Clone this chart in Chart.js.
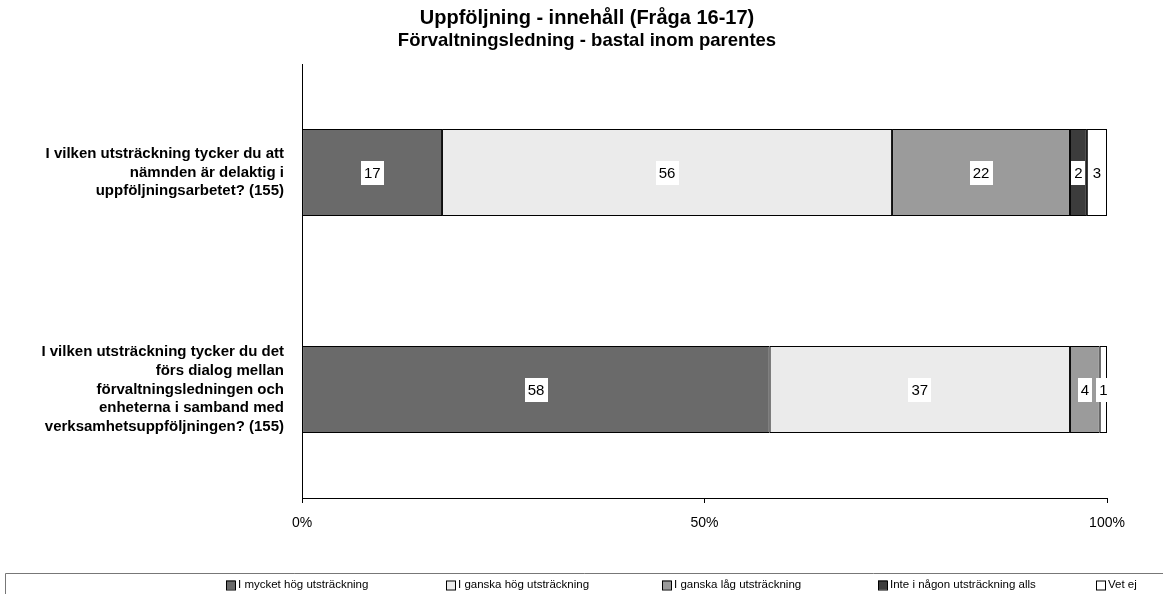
<!DOCTYPE html>
<html><head><meta charset="utf-8">
<script src="https://cdn.jsdelivr.net/npm/chart.js@4"></script>
<style>html,body{margin:0;padding:0;background:#fff}#wrap{width:1163px;height:594px;position:relative}</style>
</head><body><div id="wrap"><canvas id="c" width="1163" height="594"></canvas></div>
<script>
const categories = [
  ["I vilken utsträckning tycker du att","nämnden är delaktig i","uppföljningsarbetet? (155)"],
  ["I vilken utsträckning tycker du det","förs dialog mellan","förvaltningsledningen och","enheterna i samband med","verksamhetsuppföljningen? (155)"]
];
const seriesNames = ["I mycket hög utsträckning","I ganska hög utsträckning","I ganska låg utsträckning","Inte i någon utsträckning alls","Vet ej"];
const veryHigh   = [17.4, 58.1];
const fairlyHigh = [55.9, 37.3];
const fairlyLow  = [22.1, 3.7];
const notAtAll   = [2.1, 0];
const dontKnow   = [2.5, 0.9];
const xTicks = [0, 50, 100];
const titleText = "Uppföljning - innehåll (Fråga 16-17)";
const subtitleText = "Förvaltningsledning - bastal inom parentes";

const colors = ["#6a6a6a","#ebebeb","#9b9b9b","#3c3c3c","#ffffff"];
const FONT = "'Liberation Sans', Arial, sans-serif";

const seriesData = [veryHigh, fairlyHigh, fairlyLow, notAtAll, dontKnow];
const datasets = seriesData.map((d,i)=>({
  label: seriesNames[i], data: d, backgroundColor: colors[i],
  borderColor: "#000", borderWidth: 1, borderSkipped: false,
  categoryPercentage: 1, barPercentage: 0.4
}));

const decor = {
  id: "decor",
  afterDatasetsDraw(chart){
    const ctx = chart.ctx;
    ctx.save();
    ctx.font = "15px " + FONT;
    ctx.textAlign = "center"; ctx.textBaseline = "middle";
    chart.data.datasets.forEach((ds, di)=>{
      const meta = chart.getDatasetMeta(di);
      meta.data.forEach((bar, i)=>{
        const v = ds.data[i];
        if (!v) return;
        const txt = String(Math.round(v));
        const cx = (bar.x + bar.base)/2, cy = bar.y;
        const w = ctx.measureText(txt).width + 6, h = 24;
        ctx.fillStyle = "#fff";
        ctx.fillRect(Math.round(cx - w/2), Math.round(cy - h/2), Math.round(w), h);
        ctx.fillStyle = "#000";
        ctx.fillText(txt, cx, cy + 1);
      });
    });
    ctx.restore();
  },
  afterDraw(chart){
    const ctx = chart.ctx;
    ctx.save();
    ctx.fillStyle = "#000";
    ctx.textAlign = "center"; ctx.textBaseline = "middle";
    ctx.font = "bold 20px " + FONT;
    ctx.fillText(titleText, 587, 18);
    ctx.font = "bold 18.5px " + FONT;
    ctx.fillText(subtitleText, 587, 41);
    // legend frame
    ctx.strokeStyle = "#777"; ctx.lineWidth = 1;
    ctx.beginPath(); ctx.moveTo(5.5, 594); ctx.lineTo(5.5, 573.5); ctx.lineTo(1163, 573.5); ctx.stroke();
    const xs = [226, 446, 662, 878, 1096];
    ctx.font = "11.5px " + FONT; ctx.textAlign = "left";
    chart.data.datasets.forEach((ds, i)=>{
      const x = xs[i], y = 585;
      ctx.fillStyle = ds.backgroundColor;
      ctx.fillRect(x, y-4.5, 9, 9);
      ctx.strokeStyle = "#000";
      ctx.strokeRect(x+0.5, y-4, 9, 9);
      ctx.fillStyle = "#000";
      ctx.fillText(ds.label, x + 12, y);
    });
    ctx.restore();
  }
};

new Chart(document.getElementById("c"), {
  type: "bar",
  data: { labels: categories, datasets },
  options: {
    indexAxis: "y",
    responsive: false, animation: false,
    layout: { padding: { top: 64, left: 0, right: 56, bottom: 58 } },
    plugins: { legend: { display: false }, tooltip: { enabled: false }, title: { display: false } },
    scales: {
      x: {
        stacked: true, min: 0, max: 100,
        afterBuildTicks(s){ s.ticks = xTicks.map(v=>({value:v})); },
        afterFit(s){ s.height = 38; },
        grid: { drawOnChartArea: false, drawTicks: true, tickLength: 5, tickColor: "#000" },
        border: { display: true, color: "#000", width: 1 },
        ticks: { padding: 12, color: "#000", font: { family: FONT, size: 14 }, callback: v => v + "%", maxRotation: 0 }
      },
      y: {
        stacked: true,
        afterFit(s){ s.width = 302; },
        grid: { display: false },
        border: { display: true, color: "#000", width: 1 },
        ticks: { padding: 10, color: "#000", font: { family: FONT, size: 15, weight: "bold", lineHeight: 1.25 } }
      }
    }
  },
  plugins: [decor]
});
</script></body></html>
